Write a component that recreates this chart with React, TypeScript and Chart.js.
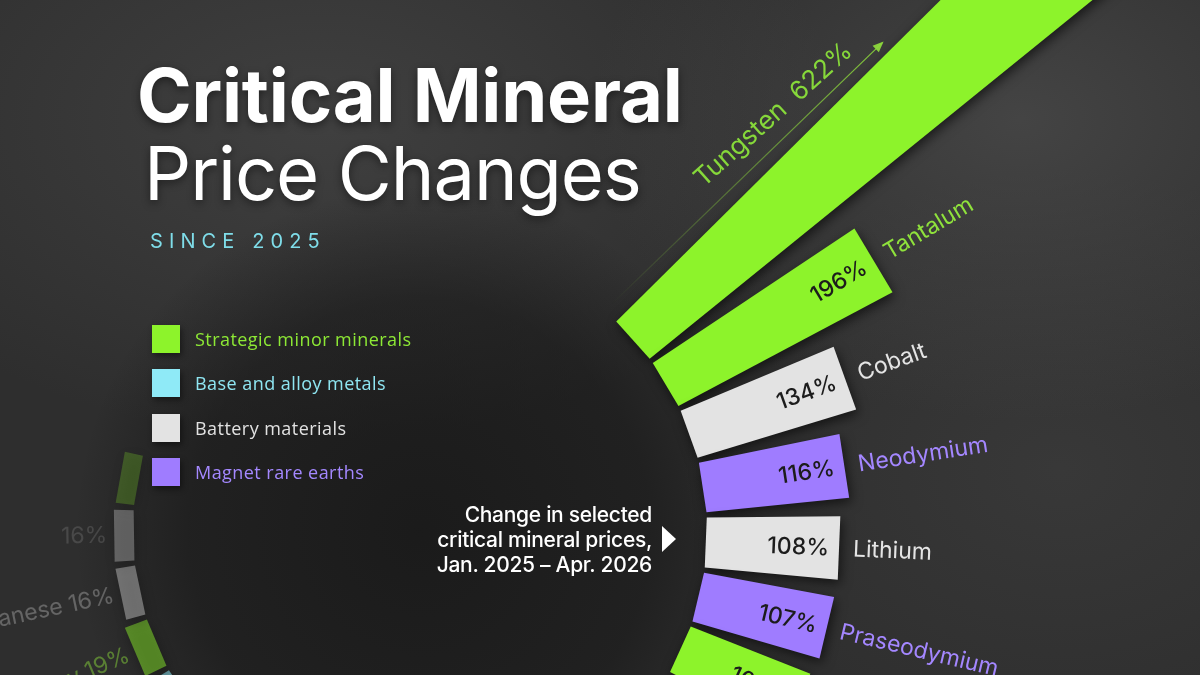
import React, { useEffect, useRef } from 'react';
import { Chart, registerables, ArcElement } from 'chart.js';

Chart.register(...registerables);

// ---------- data ----------
const categories = [
  'Tungsten', 'Tantalum', 'Cobalt', 'Neodymium', 'Lithium', 'Praseodymium', '',
  '', '', '', '', '', '', '', '', '', '',
  '', 'Antimony', 'Manganese', '', '',
];
const priceChange: (number | null)[] = [
  622, 196, 134, 116, 108, 107, 104,
  null, null, null, null, null, null, null, null, null, null,
  20, 19, 16, 16, 15,
];
// 0 strategic minor, 1 base & alloy, 2 battery, 3 magnet rare earths
const groupOf: (number | null)[] = [
  0, 0, 2, 3, 2, 3, 0,
  null, null, null, null, null, null, null, null, null, null,
  1, 0, 2, 2, 0,
];
const groupNames = ['Strategic minor minerals', 'Base and alloy metals', 'Battery materials', 'Magnet rare earths'];

// ---------- styles ----------
const barColors = ['#8df32b', '#8feaf7', '#e3e3e3', '#9f7cff'];
const labelColors = ['#8fe23c', '#8fe6f2', '#e4e4e4', '#a487ff'];
const legendColors = ['#8de835', '#8fe6f2', '#e2e2e2', '#a488ff'];

function fadeFor(mid: number) {
  let d = (mid * 180) / Math.PI % 360;
  if (d < 0) d += 360;
  if (d <= 135 || d >= 270) return 1;
  return Math.max(0, Math.min(1, 0.56 - (d - 146) * 0.0072));
}
function labelFadeFor(mid: number) {
  const f = fadeFor(mid);
  if (f >= 1) return 1;
  return Math.max(0, Math.min(1, f * 1.9 - 0.46));
}

class TaperBar extends ArcElement {
  static id = 'taperBar';
  static defaults = {
    ...(ArcElement as any).defaults,
    taper: 0.52,
    gap: 5,
    shadowColor: 'rgba(0,0,0,0.6)',
    shadowBlur: 12,
  };
  draw(ctx: CanvasRenderingContext2D) {
    const self: any = this;
    const { x, y, startAngle, endAngle, innerRadius, outerRadius } = self;
    if (!Number.isFinite(outerRadius) || !(outerRadius > innerRadius)) return;
    const o = self.options;
    const mid = (startAngle + endAngle) / 2;
    const half = (endAngle - startAngle) / 2;
    const w0 = innerRadius * Math.sin(half) - o.gap / 2;
    const k = Math.tan(half * o.taper);
    const w1 = w0 + k * (outerRadius - innerRadius);
    ctx.save();
    ctx.globalAlpha = fadeFor(mid);
    ctx.translate(x, y);
    ctx.rotate(mid);
    ctx.beginPath();
    ctx.moveTo(innerRadius, -w0);
    ctx.lineTo(outerRadius, -w1);
    ctx.lineTo(outerRadius, w1);
    ctx.lineTo(innerRadius, w0);
    ctx.closePath();
    ctx.shadowColor = o.shadowColor;
    ctx.shadowBlur = o.shadowBlur;
    ctx.shadowOffsetX = 2;
    ctx.shadowOffsetY = 4;
    ctx.fillStyle = o.backgroundColor;
    ctx.fill();
    ctx.restore();
  }
}
Chart.register(TaperBar as any);
(Chart.defaults as any).datasets.polarArea.dataElementType = 'taperBar';

const holePlugin = {
  id: 'holeRadius',
  afterDatasetUpdate(chart: any, args: any) {
    const r0 = chart.scales.r.getDistanceFromCenterForValue(0);
    for (const el of args.meta.data) el.innerRadius = r0;
  },
};

const labelPlugin = {
  id: 'radialLabels',
  afterDatasetsDraw(chart: any) {
    const ctx: CanvasRenderingContext2D = chart.ctx;
    const meta = chart.getDatasetMeta(0);
    const scale = chart.scales.r;
    meta.data.forEach((el: any, i: number) => {
      const v = priceChange[i];
      if (v === null || v === undefined) return;
      const g = groupOf[i] as number;
      const { x, y, startAngle, endAngle, outerRadius, innerRadius } = el;
      const mid = (startAngle + endAngle) / 2;
      const alpha = labelFadeFor(mid);
      if (alpha <= 0.01) return;
      const name = categories[i];
      const pct = `${v}%`;
      ctx.save();
      ctx.globalAlpha = alpha;
      ctx.translate(x, y);
      ctx.textBaseline = 'middle';
      if (v > scale.max) {
        ctx.rotate(mid);
        const x0 = innerRadius + 8;
        const x1 = innerRadius + 384;
        const grad = ctx.createLinearGradient(x0, 0, x1, 0);
        grad.addColorStop(0, 'rgba(140,215,60,0)');
        grad.addColorStop(1, 'rgba(140,215,60,0.9)');
        ctx.strokeStyle = grad;
        ctx.lineWidth = 1.2;
        ctx.beginPath();
        ctx.moveTo(x0, -41);
        ctx.lineTo(x1, -55);
        ctx.stroke();
        const ang = Math.atan2(-14, x1 - x0);
        ctx.save();
        ctx.translate(x1, -55);
        ctx.rotate(ang);
        ctx.fillStyle = 'rgba(140,215,60,0.95)';
        ctx.beginPath();
        ctx.moveTo(2, 0);
        ctx.lineTo(-9, -4.5);
        ctx.lineTo(-9, 4.5);
        ctx.closePath();
        ctx.fill();
        ctx.restore();
        ctx.fillStyle = '#86d83a';
        ctx.font = '400 26px Inter';
        ctx.textAlign = 'center';
        ctx.fillText(`${name}  ${pct}`, innerRadius + 255, -74);
      } else if (Math.cos(mid) > 0) {
        ctx.rotate(mid);
        ctx.font = '500 23px Inter';
        ctx.fillStyle = '#1c1c1c';
        ctx.textAlign = 'right';
        ctx.fillText(pct, outerRadius - 10, 1);
        if (name) {
          ctx.font = '400 23px Inter';
          ctx.fillStyle = labelColors[g];
          ctx.textAlign = 'left';
          ctx.fillText(name, outerRadius + 14, 1);
        }
      } else {
        ctx.rotate(mid + Math.PI);
        ctx.font = '400 23px Inter';
        ctx.fillStyle = labelColors[g];
        ctx.textAlign = 'right';
        ctx.fillText(name ? `${name} ${pct}` : pct, -(outerRadius + 7), 0);
      }
      ctx.restore();
    });
  },
};

export default function App() {
  const canvasRef = useRef<HTMLCanvasElement | null>(null);

  useEffect(() => {
    if (!canvasRef.current) return;
    const chart = new Chart(canvasRef.current, {
      type: 'polarArea',
      data: {
        labels: categories,
        datasets: [
          {
            data: priceChange as any,
            backgroundColor: groupOf.map((g) => (g === null ? 'rgba(0,0,0,0)' : barColors[g])),
            angle: 11.05,
            clip: false,
          } as any,
        ],
      },
      options: {
        responsive: false,
        animation: false,
        events: [],
        layout: { padding: 0 },
        plugins: { legend: { display: false }, tooltip: { enabled: false } },
        scales: {
          r: {
            min: -231.58,
            max: 416.19,
            beginAtZero: false,
            startAngle: 42.6,
            ticks: { display: false },
            grid: { display: false },
            angleLines: { display: false },
            pointLabels: { display: false },
          } as any,
        },
      } as any,
      plugins: [holePlugin, labelPlugin] as any,
    });
    return () => chart.destroy();
  }, []);

  const bg = [
    'radial-gradient(circle at 420px 531px, rgba(14,14,14,0.6) 0px, rgba(14,14,14,0.42) 230px, rgba(14,14,14,0) 345px)',
    'radial-gradient(ellipse 430px 300px at 1020px 120px, rgba(95,95,95,0.45), rgba(95,95,95,0))',
    'radial-gradient(ellipse 520px 320px at 320px 120px, rgba(88,88,88,0.42), rgba(88,88,88,0))',
    'radial-gradient(ellipse 380px 300px at 1060px 470px, rgba(75,75,75,0.35), rgba(75,75,75,0))',
    '#2e2e2e',
  ].join(',');

  const legendTop = 325;
  return (
    <div
      style={{
        position: 'fixed',
        left: 0,
        top: 0,
        width: 1200,
        height: 675,
        overflow: 'hidden',
        background: bg,
        fontFamily: 'Inter, sans-serif',
      }}
    >
      <canvas
        ref={canvasRef}
        width={1600}
        height={1600}
        style={{ position: 'absolute', left: -380, top: -269 }}
      />
      <div
        style={{
          position: 'absolute',
          left: 137,
          top: 58,
          fontSize: 74,
          lineHeight: '74px',
          fontWeight: 700,
          letterSpacing: -0.2,
          color: '#ffffff',
          textShadow: '0 3px 8px rgba(0,0,0,0.45)',
          whiteSpace: 'nowrap',
        }}
      >
        Critical Mineral
      </div>
      <div
        style={{
          position: 'absolute',
          left: 144,
          top: 136,
          fontSize: 74,
          lineHeight: '74px',
          fontWeight: 400,
          letterSpacing: -1.1,
          color: '#ffffff',
          textShadow: '0 3px 8px rgba(0,0,0,0.45)',
          whiteSpace: 'nowrap',
        }}
      >
        Price Changes
      </div>
      <div
        style={{
          position: 'absolute',
          left: 150,
          top: 231,
          fontSize: 20,
          lineHeight: '20px',
          letterSpacing: 6.1,
          color: '#7fdde9',
          whiteSpace: 'nowrap',
        }}
      >
        SINCE 2025
      </div>
      {groupNames.map((n, i) => (
        <div
          key={n}
          style={{
            position: 'absolute',
            left: 152,
            top: legendTop + i * 44.3,
            height: 28,
            display: 'flex',
            alignItems: 'center',
            whiteSpace: 'nowrap',
          }}
        >
          <div
            style={{
              width: 28,
              height: 28,
              background: barColors[i],
              boxShadow: '2px 3px 6px rgba(0,0,0,0.45)',
            }}
          />
          <div
            style={{
              marginLeft: 15,
              fontFamily: '"Open Sans", sans-serif',
              fontSize: 18,
              letterSpacing: 0.45,
              color: legendColors[i],
            }}
          >
            {n}
          </div>
        </div>
      ))}
      <div
        style={{
          position: 'absolute',
          right: 1200 - 652,
          top: 502,
          fontSize: 21,
          lineHeight: '25px',
          fontWeight: 500,
          letterSpacing: -0.3,
          color: '#ffffff',
          textAlign: 'right',
          whiteSpace: 'nowrap',
        }}
      >
        Change in selected
        <br />
        critical mineral prices,
        <br />
        Jan. 2025 – Apr. 2026
      </div>
      <div
        style={{
          position: 'absolute',
          left: 662,
          top: 526,
          width: 0,
          height: 0,
          borderLeft: '14px solid #ffffff',
          borderTop: '13.5px solid transparent',
          borderBottom: '13.5px solid transparent',
        }}
      />
    </div>
  );
}
